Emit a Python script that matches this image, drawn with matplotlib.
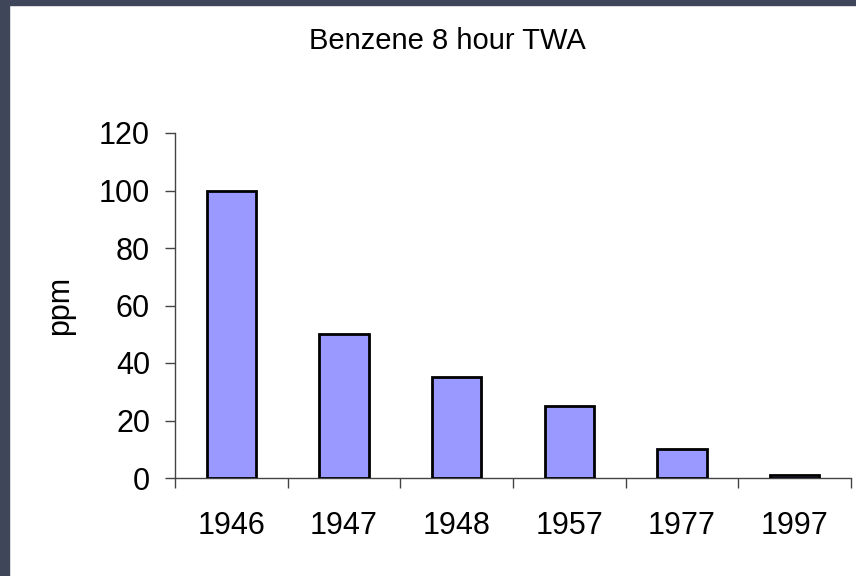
import numpy as np
import matplotlib.pyplot as plt
from matplotlib.patches import Rectangle

plt.rcParams['font.family'] = ['Liberation Sans', 'DejaVu Sans']

years = ['1946', '1947', '1948', '1957', '1977', '1997']
ppm = [100, 50, 35, 25, 10, 1]
yticks = [0, 20, 40, 60, 80, 100, 120]

fig = plt.figure(figsize=(8.56, 5.76), dpi=100)
fig.patch.set_facecolor('white')

# dark slide frame on the left and top
frame = '#3f4659'
fig.patches.append(Rectangle((0, 0), 9/856, 1, transform=fig.transFigure, color=frame, zorder=-1))
fig.patches.append(Rectangle((0, 1 - 5/576), 1, 5/576, transform=fig.transFigure, color=frame, zorder=-1))

ax = fig.add_axes([175/856, 1 - 478/576, 676/856, 345/576])
x = np.arange(len(years))
ax.bar(x, ppm, width=0.44, color='#9999ff', edgecolor='black', linewidth=2, zorder=3)

ax.set_xlim(-0.5, len(years) - 0.5)
ax.set_ylim(0, 120)
ax.set_yticks(yticks)
ax.set_xticks(x)
ax.set_xticklabels(years)
ax.set_xticks(np.arange(-0.5, len(years)), minor=True)

for s in ['top', 'right']:
    ax.spines[s].set_visible(False)
for s in ['left', 'bottom']:
    ax.spines[s].set_color('#444444')
    ax.spines[s].set_linewidth(1)

ax.tick_params(axis='x', which='major', length=0, pad=24, labelsize=22)
ax.tick_params(axis='x', which='minor', length=7, width=1, color='#444444', direction='out')
ax.tick_params(axis='y', length=7, width=1, color='#444444', pad=11, labelsize=22)

ax.set_ylabel('ppm', fontsize=22)
ax.yaxis.set_label_coords(-0.148, 0.5)

fig.text(447/856, 1 - 41/576, 'Benzene 8 hour TWA', ha='center', va='center', fontsize=21)

fig.savefig('out.png', dpi=100)
